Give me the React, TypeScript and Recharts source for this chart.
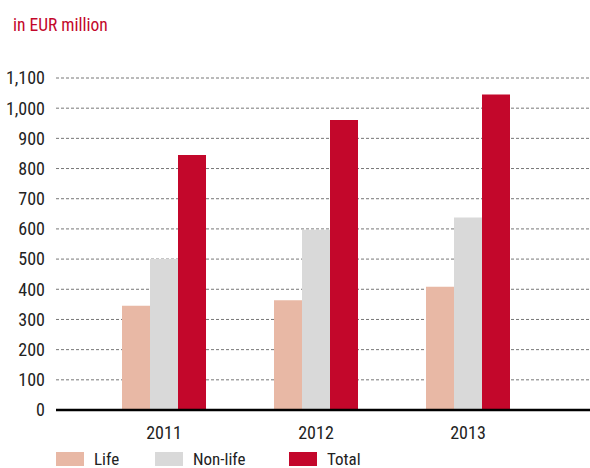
import React from "react";
import { BarChart, Bar, XAxis, YAxis, CartesianGrid, Legend } from "recharts";

const years = ["2011", "2012", "2013"];
const life = [345, 364, 408];
const nonLife = [500, 597, 638];
const total = [845, 961, 1045];
const yTicks = [0, 100, 200, 300, 400, 500, 600, 700, 800, 900, 1000, 1100];

const data = years.map((y, i) => ({ year: y, life: life[i], nonLife: nonLife[i], total: total[i] }));

const FONT = '"Liberation Sans Narrow", "Roboto Condensed", "Liberation Sans", Arial, sans-serif';

const fmt = (v: number) => v.toLocaleString("en-US");

const LegendContent = (props: any) => {
  const { payload } = props;
  const offsets = [0, 99, 233];
  return (
    <div style={{ position: "relative", height: 20, fontFamily: FONT, fontSize: 17, color: "#222" }}>
      {(payload || []).map((p: any, i: number) => (
        <div key={p.value} style={{ position: "absolute", left: offsets[i], top: 0, display: "flex", alignItems: "center" }}>
          <span style={{ display: "inline-block", width: 28, height: 14, background: p.color, marginRight: 10 }} />
          <span>{p.value}</span>
        </div>
      ))}
    </div>
  );
};

export default function App() {
  return (
    <div style={{ position: "absolute", left: 0, top: 0, width: 590, height: 468, background: "#fff" }}>
      <div style={{ position: "absolute", left: 13, top: 15, fontFamily: FONT, fontSize: 17.5, color: "#C3072B" }}>
        in EUR million
      </div>
      <BarChart width={590} height={468} data={data} margin={{ top: 78, right: 0, bottom: 8, left: 0 }} barGap={0} barSize={28}>
        <CartesianGrid vertical={false} stroke="#777" strokeDasharray="3 2" />
        <XAxis
          dataKey="year"
          tickLine={false}
          axisLine={{ stroke: "#000", strokeWidth: 2.5 }}
          padding={{ left: 32, right: 46 }}
          tickSize={0}
          tickMargin={16}
          height={30}
          tick={{ fill: "#222", fontSize: 18, fontFamily: FONT }}
        />
        <YAxis
          width={56}
          domain={[0, 1100]}
          ticks={yTicks}
          interval={0}
          tickFormatter={fmt}
          axisLine={false}
          tickLine={false}
          tickSize={0}
          tickMargin={11}
          tick={{ fill: "#222", fontSize: 18, fontFamily: FONT }}
        />
        <Legend
          verticalAlign="bottom"
          content={<LegendContent />}
          wrapperStyle={{ position: "absolute", left: 56, top: 449, width: 400 }}
        />
        <Bar dataKey="life" name="Life" fill="#E8B8A5" isAnimationActive={false} />
        <Bar dataKey="nonLife" name="Non-life" fill="#D9D9D9" isAnimationActive={false} />
        <Bar dataKey="total" name="Total" fill="#C3072B" isAnimationActive={false} />
      </BarChart>
    </div>
  );
}
